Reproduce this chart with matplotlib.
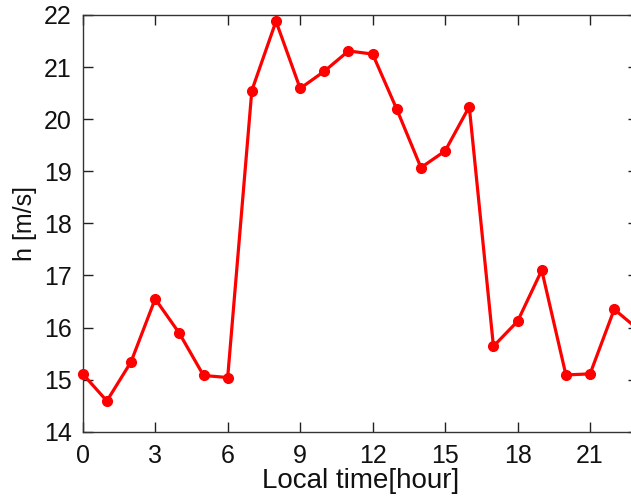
import numpy as np
import matplotlib
matplotlib.use("Agg")
import matplotlib.pyplot as plt

# hourly values
hours = list(range(24))
h_values = [15.11, 14.59, 15.34, 16.55, 15.89, 15.08, 15.04, 20.55,
            21.88, 20.59, 20.92, 21.31, 21.25, 20.19, 19.07, 19.39,
            20.24, 15.64, 16.12, 17.10, 15.09, 15.11, 16.35, 15.96]
x_ticks = [0, 3, 6, 9, 12, 15, 18, 21]
y_ticks = [14, 15, 16, 17, 18, 19, 20, 21, 22]

plt.rcParams['font.family'] = ['Liberation Sans', 'DejaVu Sans']

W, H = 631, 499
fig = plt.figure(figsize=(W / 100, H / 100), dpi=100)
# axes run past the right edge of the picture, as in the reference crop
left, right, top, bottom = 82.7, 638.4, 15.0, 431.7
ax = fig.add_axes([left / W, 1 - bottom / H, (right - left) / W, (bottom - top) / H])

ax.plot(hours, h_values, color='#ff0000', lw=2.3, marker='o', ms=7,
        clip_on=False, zorder=3)

ax.set_xlim(0, 23)
ax.set_ylim(14, 22)
ax.set_xticks(x_ticks)
ax.set_yticks(y_ticks)
ax.tick_params(direction='in', top=True, right=True, length=7, width=1,
               labelsize=18, color='#222222', labelcolor='#111111')
ax.tick_params(axis='y', pad=8)
ax.tick_params(axis='x', pad=9)
for s in ax.spines.values():
    s.set_color('#333333')
    s.set_linewidth(1.0)

ax.set_xlabel('Local time[hour]', fontsize=20, labelpad=0, color='#111111')
ax.set_ylabel('h [m/s]', fontsize=18, labelpad=5, color='#111111')

fig.savefig('out.png', dpi=100)
